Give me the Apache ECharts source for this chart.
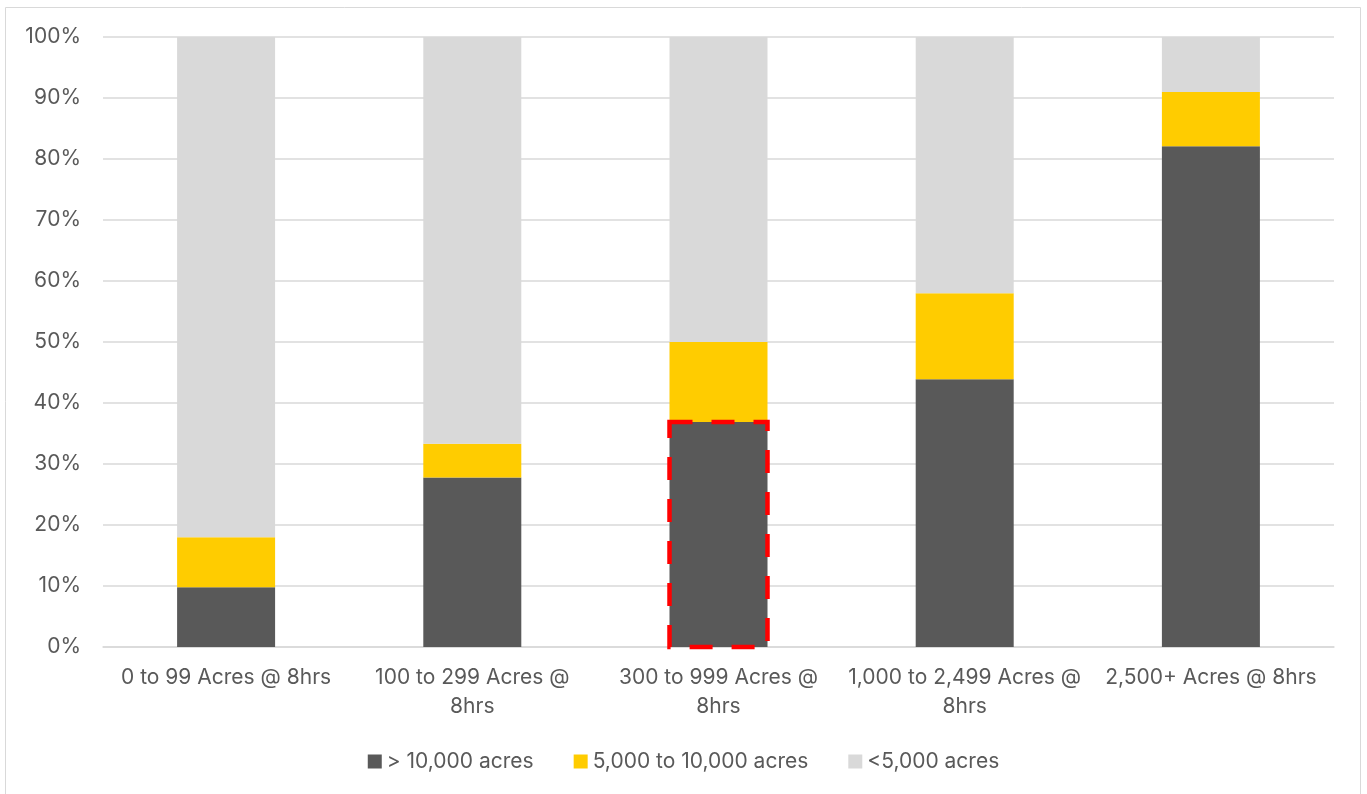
<!DOCTYPE html>
<html>
<head>
<meta charset="utf-8">
<script src="https://cdn.jsdelivr.net/npm/echarts@6/dist/echarts.min.js"></script>
<style>
  html, body { margin: 0; padding: 0; background: #fff; }
  #chart { width: 1367px; height: 794px; }
</style>
</head>
<body>
<div id="chart"></div>
<script>
const categories = ['0 to 99 Acres @ 8hrs', '100 to 299 Acres @ 8hrs', '300 to 999 Acres @ 8hrs', '1,000 to 2,499 Acres @ 8hrs', '2,500+ Acres @ 8hrs']
const over10k = [9.8, 27.8, 36.9, 43.9, 82.1]
const from5kTo10k = [8.2, 5.5, 13.1, 14.1, 8.9]
const under5k = [82.0, 66.7, 50.0, 42.0, 9.0]
const seriesNames = ['> 10,000 acres', '5,000 to 10,000 acres', '<5,000 acres']
const highlightIndex = 2

const font = 'Inter, "Open Sans", sans-serif'
const textColor = '#595959'
const barWidth = 98

const chart = echarts.init(document.getElementById('chart'))

const option = {
  animation: false,
  color: ['#595959', '#FFCC00', '#D9D9D9'],
  textStyle: { fontFamily: font },
  graphic: [{
    type: 'rect',
    shape: { x: 5.5, y: 7.5, width: 1355, height: 820 },
    style: { fill: 'none', stroke: '#d9d9d9', lineWidth: 1 },
    silent: true
  }],
  legend: {
    data: seriesNames,
    bottom: 17,
    left: 'center',
    itemWidth: 14,
    itemHeight: 14,
    itemGap: 40,
    icon: 'rect',
    textStyle: { color: textColor, fontSize: 21, fontFamily: font }
  },
  grid: {
    left: 103,
    right: 33,
    top: 37,
    bottom: 147
  },
  xAxis: {
    type: 'category',
    data: categories,
    axisTick: { show: false },
    axisLine: { lineStyle: { color: '#d9d9d9', width: 1.5 } },
    axisLabel: {
      color: textColor,
      fontSize: 21,
      fontFamily: font,
      margin: 16,
      lineHeight: 29,
      interval: 0,
      formatter: v => {
        if (v.length > 20) {
          const i = v.lastIndexOf(' ')
          return v.slice(0, i) + '\n' + v.slice(i + 1)
        }
        return v
      }
    }
  },
  yAxis: {
    type: 'value',
    min: 0,
    max: 100,
    interval: 10,
    axisLabel: {
      color: textColor,
      fontSize: 21,
      fontFamily: font,
      margin: 22,
      formatter: '{value}%'
    },
    splitLine: { lineStyle: { color: '#d9d9d9', width: 1.5 } }
  },
  series: [
    {
      name: seriesNames[0],
      type: 'bar',
      stack: 'total',
      barWidth: barWidth,
      data: over10k
    },
    {
      name: seriesNames[1],
      type: 'bar',
      stack: 'total',
      barWidth: barWidth,
      data: from5kTo10k
    },
    {
      name: seriesNames[2],
      type: 'bar',
      stack: 'total',
      barWidth: barWidth,
      data: under5k
    },
    {
      // red dashed outline round the highlighted segment
      name: 'highlight',
      type: 'custom',
      z: 10,
      silent: true,
      data: [[highlightIndex, over10k[highlightIndex]]],
      renderItem: (params, api) => {
        const top = api.coord([api.value(0), api.value(1)])
        const base = api.coord([api.value(0), 0])
        return {
          type: 'rect',
          shape: { x: top[0] - barWidth / 2, y: top[1], width: barWidth, height: base[1] - top[1] },
          style: { fill: 'none', stroke: '#ff0000', lineWidth: 4.5, lineDash: [23, 19] }
        }
      }
    }
  ]
}

chart.setOption(option)
</script>
</body>
</html>
